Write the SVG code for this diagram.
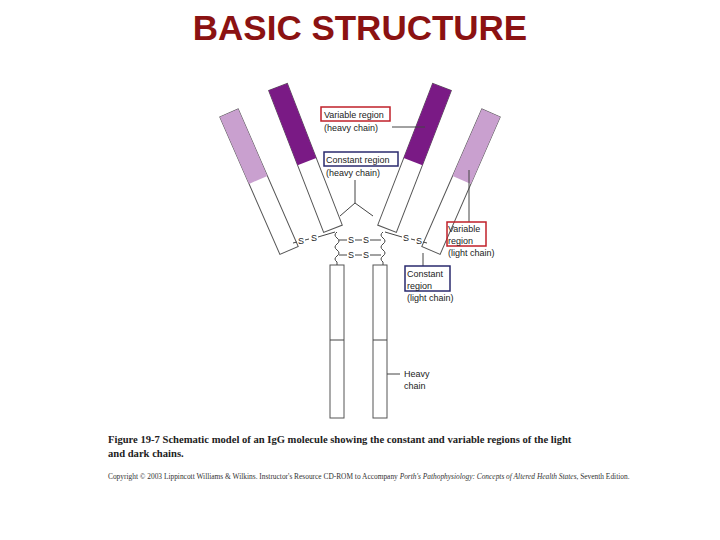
<svg xmlns="http://www.w3.org/2000/svg" width="720" height="540" viewBox="0 0 720 540">
<style>
.ch{fill:#fff;stroke:#555;stroke-width:1}
.lp{fill:#c9a0cf;stroke:none}
.dp{fill:#7a1a85;stroke:none}
.ln{fill:none;stroke:#444;stroke-width:1}
.lb{font-family:"Liberation Sans",Arial,sans-serif;font-size:9px;fill:#222}
.s{font-family:"Liberation Sans",Arial,sans-serif;font-size:9px;fill:#222;text-anchor:middle}
.cap{font-family:"Liberation Serif","Times New Roman",serif;font-size:10.6px;fill:#222}
</style>
<rect width="720" height="540" fill="#fff"/>
<text x="360" y="40" text-anchor="middle" font-family="Liberation Sans,Arial,sans-serif" font-weight="bold" font-size="35" fill="#8b1212">BASIC STRUCTURE</text>
<g id="left-light" transform="translate(229,113) rotate(-23.6)">
<rect class="ch" x="-10" y="0" width="20" height="150"/><rect class="lp" x="-10" y="0" width="20" height="73"/></g>
<g id="left-heavy" transform="translate(278,87) rotate(-21.2)">
<rect class="ch" x="-10" y="0" width="20" height="152"/><rect class="dp" x="-10" y="0" width="20" height="80"/></g>
<g id="right-heavy" transform="translate(442,87) rotate(21.2)">
<rect class="ch" x="-10" y="0" width="20" height="152"/><rect class="dp" x="-10" y="0" width="20" height="80"/></g>
<g id="right-light" transform="translate(491,113) rotate(23.6)">
<rect class="ch" x="-10" y="0" width="20" height="150"/><rect class="lp" x="-10" y="0" width="20" height="73"/></g>
<g id="stems">
<rect class="ch" x="330" y="265" width="14" height="153"/><line class="ln" x1="330" y1="340" x2="344" y2="340"/>
<rect class="ch" x="373" y="265" width="14" height="153"/><line class="ln" x1="373" y1="340" x2="387" y2="340"/>
</g>
<g id="connectors">
<path class="ln" d="M337,232 q-4,3 0,6 q4,3 0,6 q-4,3 0,6 q4,3 0,6 q-4,3 0,6 l0,3"/>
<path class="ln" d="M383,232 q-4,3 0,6 q4,3 0,6 q-4,3 0,6 q4,3 0,6 q-4,3 0,6 l0,3"/>
<path class="ln" d="M339,240 h8 M355,240 h7 M370,240 h11 M339,255 h8 M355,255 h7 M370,255 h11"/>
<path class="ln" d="M293,243 l4,-1 M305,240 l4,-1 M318,237 l17,-5 M427,243 l-4,-1 M415,240 l-4,-1 M402,237 l-17,-5"/>
<path class="ln" d="M355,180 v23 l-15,13 M355,203 l18,13"/>
<path class="ln" d="M392,127 h33 M469,170 v52 M423,253 v13 M387,374 h13"/>
</g>
<g id="ss-labels">
<text class="s" x="351" y="243">S</text><text class="s" x="366" y="243">S</text>
<text class="s" x="351" y="258">S</text><text class="s" x="366" y="258">S</text>
<text class="s" x="301" y="244">S</text><text class="s" x="314" y="241">S</text>
<text class="s" x="419" y="244">S</text><text class="s" x="406" y="241">S</text>
</g>
<g id="labels">
<rect x="321" y="107" width="69" height="14" fill="none" stroke="#c0202a" stroke-width="1.5"/>
<text class="lb" x="324" y="118">Variable region</text><text class="lb" x="324" y="131">(heavy chain)</text>
<rect x="324" y="152" width="74" height="14" fill="none" stroke="#2a2a6e" stroke-width="1.5"/>
<text class="lb" x="326" y="163">Constant region</text><text class="lb" x="326" y="176">(heavy chain)</text>
<rect x="447" y="222" width="39" height="24" fill="none" stroke="#c0202a" stroke-width="1.5"/>
<text class="lb" x="448" y="232">Variable</text><text class="lb" x="448" y="244">region</text><text class="lb" x="448" y="256">(light chain)</text>
<rect x="405" y="266" width="45" height="25" fill="none" stroke="#2a2a6e" stroke-width="1.5"/>
<text class="lb" x="407" y="277">Constant</text><text class="lb" x="407" y="289">region</text><text class="lb" x="407" y="301">(light chain)</text>
<text class="lb" x="404" y="377">Heavy</text><text class="lb" x="404" y="389">chain</text>
</g>
<text class="cap" x="108" y="443" font-weight="bold">Figure 19-7 Schematic model of an IgG molecule showing the constant and variable regions of the light</text>
<text class="cap" x="108" y="457" font-weight="bold">and dark chains.</text>
<text x="108" y="479" font-family="Liberation Serif,serif" font-size="7.4" fill="#333">Copyright © 2003 Lippincott Williams &amp; Wilkins. Instructor's Resource CD-ROM to Accompany <tspan font-style="italic">Porth's Pathophysiology: Concepts of Altered Health States</tspan>, Seventh Edition.</text>
</svg>
